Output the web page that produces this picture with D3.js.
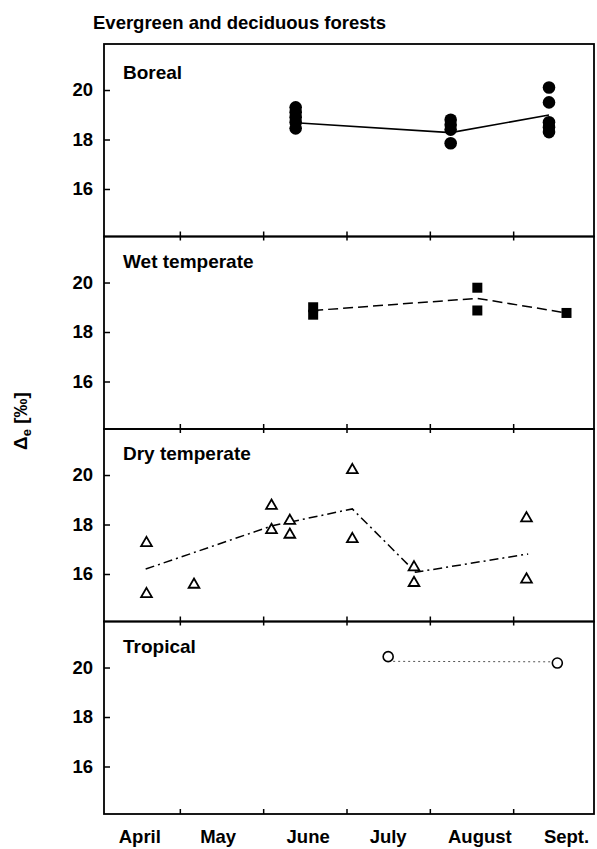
<!DOCTYPE html>
<html>
<head>
<meta charset="utf-8">
<script src="https://cdn.jsdelivr.net/npm/d3@7"></script>
<style>
  body { margin: 0; background: #fff; }
  svg text { font-family: "Liberation Sans", Arial, sans-serif; font-weight: bold; fill: #000; }
</style>
</head>
<body>
<div id="container"></div>
<script>
/* CONSTANTS AND GLOBALS */
const width = 597,
  height = 849,
  margin = {top: 44, left: 104, right: 3},
  panelH = 192.5

// DATA (months: 0 = start of April, 1 = start of May ...)
const panelNames = ["Boreal", "Wet temperate", "Dry temperate", "Tropical"]
const monthLabels = ["April", "May", "June", "July", "August", "Sept."]
const monthLabelPos = [0.52, 1.46, 2.54, 3.5, 4.6, 5.64]
const monthTicks = [1, 2, 3, 4, 5]
const yTicks = [16, 18, 20]

// Boreal (filled circles, solid line)
const borealMonth = [2.39, 4.25, 5.43]
const borealValues = [
  [19.3, 19.1, 18.9, 18.7, 18.45],
  [18.8, 18.6, 18.4, 17.85],
  [20.1, 19.5, 18.7, 18.5, 18.3]
]
const borealMean = [18.68, 18.28, 18.99]

// Wet temperate (filled squares, dashed line)
const wetMonth = [2.6, 4.57, 5.64]
const wetValues = [[19.0, 18.7], [19.79, 18.87], [18.77]]
const wetMean = [18.87, 19.36, 18.77]

// Dry temperate (open triangles, dash-dot line)
const dryMonth = [0.6, 0.6, 1.17, 2.1, 2.1, 2.32, 2.32, 3.07, 3.07, 3.81, 3.81, 5.16, 5.16]
const dryValues = [17.25, 15.19, 15.57, 18.76, 17.78, 18.15, 17.59, 20.2, 17.41, 16.27, 15.64, 18.25, 15.78]
const dryLineMonth = [0.59, 2.11, 3.07, 3.83, 5.18]
const dryLineValues = [16.2, 17.95, 18.63, 16.07, 16.81]

// Tropical (open circles, dotted line)
const tropMonth = [3.5, 5.53]
const tropValues = [20.44, 20.18]
const tropLineValues = [20.25, 20.23]

/* SCALES */
const xScale = d3.scaleLinear()
  .domain([0.09, 5.97])
  .range([margin.left, width - margin.right])

const yScales = panelNames.map((n, i) => {
  const top = margin.top + i * panelH
  return d3.scaleLinear().domain([14.08, 21.86]).range([top + panelH, top])
})

const svg = d3.select("#container")
  .append("svg")
  .attr("width", width)
  .attr("height", height)

// title
svg.append("text")
  .attr("x", 93)
  .attr("y", 29)
  .attr("font-size", 18.5)
  .text("Evergreen and deciduous forests")

// y label
const ylab = svg.append("text")
  .attr("transform", "translate(27,421) rotate(-90)")
  .attr("text-anchor", "middle")
  .attr("font-size", 19)
ylab.append("tspan").text("\u0394")
ylab.append("tspan").attr("font-size", 13).attr("dy", 4).text("e")
ylab.append("tspan").attr("dy", -4).text(" [\u2030]")

const line = d3.line()

panelNames.forEach((name, i) => {
  const y = yScales[i]
  const top = margin.top + i * panelH
  const g = svg.append("g")

  // frame
  g.append("rect")
    .attr("x", margin.left)
    .attr("y", top)
    .attr("width", width - margin.right - margin.left)
    .attr("height", panelH)
    .attr("fill", "none")
    .attr("stroke", "#000")
    .attr("stroke-width", 1.8)

  // y axis
  const ya = g.append("g")
    .attr("transform", `translate(${margin.left},0)`)
    .call(d3.axisLeft(y).tickValues(yTicks).tickSizeInner(-6).tickSizeOuter(0).tickPadding(11))
  ya.select(".domain").remove()
  ya.selectAll("line").attr("stroke-width", 1.5)
  ya.selectAll("text").attr("font-size", 18.5).attr("font-family", null)

  // month ticks at bottom and top
  const xb = g.append("g")
    .attr("transform", `translate(0,${top + panelH})`)
    .call(d3.axisBottom(xScale).tickValues(monthTicks).tickSizeInner(-5).tickSizeOuter(0).tickFormat(""))
  xb.select(".domain").remove()
  xb.selectAll("line").attr("stroke-width", 1.5)
  if (i > 0) {
    const xt = g.append("g")
      .attr("transform", `translate(0,${top})`)
      .call(d3.axisTop(xScale).tickValues(monthTicks).tickSizeInner(-4).tickSizeOuter(0).tickFormat(""))
    xt.select(".domain").remove()
    xt.selectAll("line").attr("stroke-width", 1.5)
  }

  // panel name
  g.append("text")
    .attr("x", 123)
    .attr("y", top + (i === 0 ? 35 : 31))
    .attr("font-size", 19)
    .text(name)
})

// Boreal
{
  const y = yScales[0]
  svg.append("path")
    .attr("d", line(borealMonth.map((m, j) => [xScale(m), y(borealMean[j])])))
    .attr("fill", "none").attr("stroke", "#000").attr("stroke-width", 1.6)
  const pts = borealMonth.flatMap((m, j) => borealValues[j].map(v => [m, v]))
  svg.selectAll(".boreal").data(pts).join("circle")
    .attr("class", "boreal")
    .attr("cx", d => xScale(d[0]))
    .attr("cy", d => y(d[1]))
    .attr("r", 6.3)
    .attr("fill", "#000")
}

// Wet temperate
{
  const y = yScales[1]
  svg.append("path")
    .attr("d", line(wetMonth.map((m, j) => [xScale(m), y(wetMean[j])])))
    .attr("fill", "none").attr("stroke", "#000").attr("stroke-width", 1.5)
    .attr("stroke-dasharray", "10,5")
  const pts = wetMonth.flatMap((m, j) => wetValues[j].map(v => [m, v]))
  svg.selectAll(".wet").data(pts).join("rect")
    .attr("class", "wet")
    .attr("x", d => xScale(d[0]) - 5)
    .attr("y", d => y(d[1]) - 5)
    .attr("width", 10)
    .attr("height", 10)
    .attr("fill", "#000")
}

// Dry temperate
{
  const y = yScales[2]
  svg.append("path")
    .attr("d", line(dryLineMonth.map((m, j) => [xScale(m), y(dryLineValues[j])])))
    .attr("fill", "none").attr("stroke", "#000").attr("stroke-width", 1.5)
    .attr("stroke-dasharray", "9,4,2,4")
  const tri = d3.symbol(d3.symbolTriangle, 50)
  svg.selectAll(".dry").data(dryMonth).join("path")
    .attr("class", "dry")
    .attr("transform", (m, j) => `translate(${xScale(m)},${y(dryValues[j])})`)
    .attr("d", tri)
    .attr("fill", "#fff")
    .attr("stroke", "#000")
    .attr("stroke-width", 1.8)
}

// Tropical
{
  const y = yScales[3]
  svg.append("path")
    .attr("d", line(tropMonth.map((m, j) => [xScale(m), y(tropLineValues[j])])))
    .attr("fill", "none").attr("stroke", "#555").attr("stroke-width", 1)
    .attr("stroke-dasharray", "2,3")
  svg.selectAll(".trop").data(tropMonth).join("circle")
    .attr("class", "trop")
    .attr("cx", m => xScale(m))
    .attr("cy", (m, j) => y(tropValues[j]))
    .attr("r", 5)
    .attr("fill", "#fff")
    .attr("stroke", "#000")
    .attr("stroke-width", 1.6)
}

// month labels
svg.selectAll(".month").data(monthLabels).join("text")
  .attr("class", "month")
  .attr("x", (d, i) => xScale(monthLabelPos[i]))
  .attr("y", 843)
  .attr("text-anchor", "middle")
  .attr("font-size", 18.5)
  .text(d => d)
</script>
</body>
</html>
